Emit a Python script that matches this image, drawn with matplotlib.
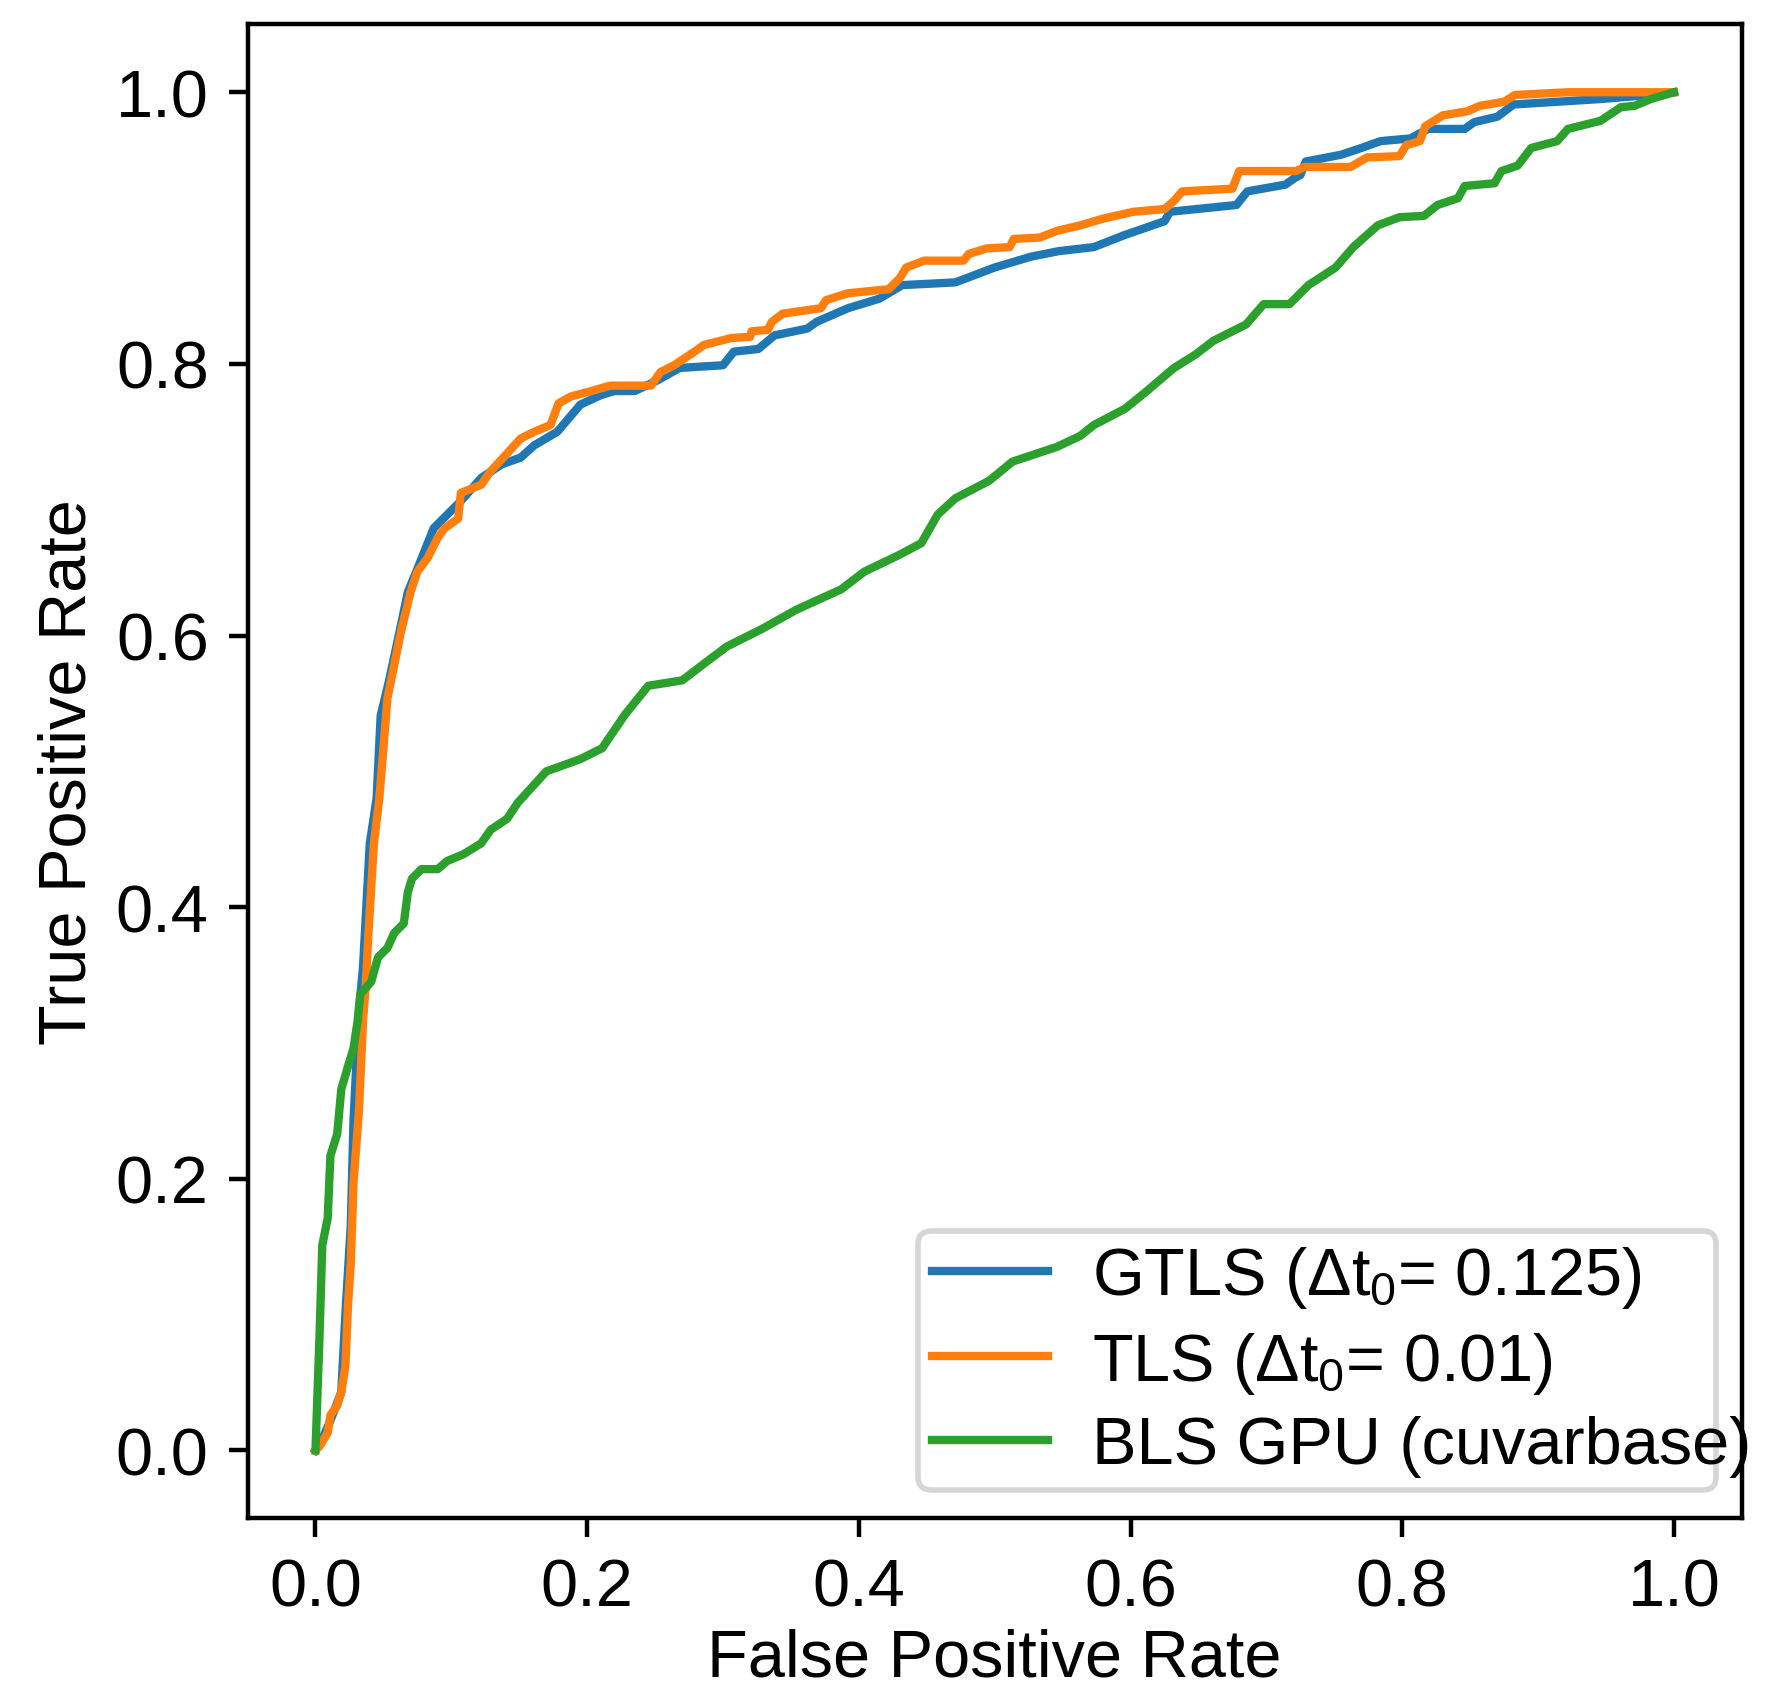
import matplotlib
matplotlib.use("Agg")
import matplotlib.pyplot as plt

plt.rcParams["font.family"] = ["Liberation Sans", "DejaVu Sans"]
plt.rcParams["mathtext.fontset"] = "custom"
plt.rcParams["mathtext.rm"] = "Liberation Sans"
plt.rcParams["mathtext.it"] = "Liberation Sans"
plt.rcParams["font.size"] = 12

# ROC curves (false positive rate, true positive rate)
gtls_fpr = [0.0, 0.004, 0.011, 0.019, 0.022, 0.026, 0.028, 0.032, 0.035, 0.040,
            0.045, 0.048, 0.054, 0.063, 0.068, 0.075, 0.087, 0.097, 0.107, 0.122,
            0.137, 0.151, 0.161, 0.178, 0.195, 0.210, 0.220, 0.235, 0.252, 0.268,
            0.300, 0.308, 0.326, 0.338, 0.362, 0.369, 0.392, 0.415, 0.432, 0.471,
            0.500, 0.527, 0.547, 0.573, 0.596, 0.625, 0.629, 0.678, 0.686, 0.714,
            0.721, 0.725, 0.729, 0.755, 0.770, 0.784, 0.806, 0.819, 0.846, 0.853,
            0.870, 0.882, 0.946, 0.970, 1.0]
gtls_tpr = [0.0, 0.006, 0.022, 0.043, 0.100, 0.166, 0.243, 0.323, 0.356, 0.447,
            0.480, 0.541, 0.566, 0.608, 0.632, 0.649, 0.679, 0.689, 0.699, 0.716,
            0.726, 0.731, 0.740, 0.750, 0.770, 0.777, 0.780, 0.780, 0.788, 0.797,
            0.799, 0.809, 0.811, 0.821, 0.826, 0.831, 0.841, 0.848, 0.858, 0.860,
            0.871, 0.879, 0.883, 0.886, 0.895, 0.905, 0.912, 0.917, 0.927, 0.932,
            0.937, 0.939, 0.949, 0.954, 0.959, 0.964, 0.966, 0.973, 0.973, 0.978,
            0.982, 0.991, 0.995, 0.997, 1.0]

tls_fpr = [0.0, 0.003, 0.009, 0.011, 0.016, 0.019, 0.022, 0.024, 0.026, 0.028,
           0.032, 0.035, 0.037, 0.039, 0.043, 0.047, 0.053, 0.063, 0.070, 0.075,
           0.0825, 0.090, 0.095, 0.105, 0.107, 0.122, 0.129, 0.141, 0.151, 0.161,
           0.173, 0.179, 0.188, 0.203, 0.217, 0.247, 0.254, 0.264, 0.279, 0.286,
           0.306, 0.320, 0.321, 0.333, 0.336, 0.344, 0.372, 0.376, 0.392, 0.422,
           0.430, 0.435, 0.448, 0.477, 0.481, 0.494, 0.511, 0.514, 0.533, 0.546,
           0.563, 0.580, 0.602, 0.625, 0.632, 0.638, 0.675, 0.680, 0.722, 0.728,
           0.762, 0.774, 0.798, 0.803, 0.813, 0.817, 0.830, 0.848, 0.857, 0.875,
           0.883, 0.922, 1.0]
tls_tpr = [0.0, 0.003, 0.013, 0.026, 0.033, 0.043, 0.062, 0.108, 0.138, 0.197,
           0.250, 0.316, 0.342, 0.381, 0.447, 0.480, 0.554, 0.603, 0.632, 0.647,
           0.657, 0.672, 0.679, 0.686, 0.705, 0.711, 0.721, 0.734, 0.745, 0.750,
           0.755, 0.771, 0.776, 0.780, 0.784, 0.784, 0.794, 0.799, 0.809, 0.814,
           0.819, 0.820, 0.824, 0.825, 0.831, 0.837, 0.841, 0.847, 0.852, 0.855,
           0.863, 0.871, 0.876, 0.876, 0.881, 0.885, 0.886, 0.892, 0.893, 0.898,
           0.902, 0.907, 0.912, 0.914, 0.920, 0.927, 0.929, 0.942, 0.942, 0.945,
           0.945, 0.952, 0.953, 0.961, 0.964, 0.975, 0.983, 0.986, 0.990, 0.993,
           0.998, 1.0, 1.0]

bls_fpr = [0.0, 0.003, 0.005, 0.009, 0.011, 0.016, 0.019, 0.024, 0.028, 0.031,
           0.033, 0.041, 0.046, 0.053, 0.058, 0.065, 0.068, 0.071, 0.078, 0.090,
           0.097, 0.109, 0.122, 0.129, 0.141, 0.149, 0.170, 0.195, 0.211, 0.228,
           0.245, 0.270, 0.287, 0.303, 0.329, 0.354, 0.387, 0.404, 0.429, 0.446,
           0.458, 0.471, 0.496, 0.513, 0.546, 0.563, 0.573, 0.596, 0.612, 0.632,
           0.648, 0.661, 0.685, 0.698, 0.717, 0.731, 0.751, 0.764, 0.782, 0.798,
           0.816, 0.826, 0.841, 0.846, 0.868, 0.873, 0.885, 0.895, 0.914, 0.922,
           0.946, 0.961, 0.971, 0.983, 1.0]
bls_tpr = [0.0, 0.085, 0.151, 0.171, 0.217, 0.233, 0.266, 0.283, 0.296, 0.316,
           0.336, 0.345, 0.363, 0.370, 0.381, 0.388, 0.411, 0.421, 0.428, 0.428,
           0.434, 0.439, 0.447, 0.457, 0.465, 0.477, 0.500, 0.509, 0.517, 0.542,
           0.563, 0.567, 0.580, 0.592, 0.605, 0.619, 0.634, 0.647, 0.659, 0.668,
           0.689, 0.701, 0.714, 0.728, 0.739, 0.747, 0.755, 0.767, 0.780, 0.797,
           0.807, 0.817, 0.829, 0.844, 0.844, 0.858, 0.871, 0.886, 0.902, 0.908,
           0.909, 0.917, 0.922, 0.931, 0.933, 0.942, 0.946, 0.959, 0.964, 0.973,
           0.979, 0.989, 0.990, 0.995, 1.0]

labels = [
    r"GTLS ($\Delta t_0$= 0.125)",
    r"TLS ($\Delta t_0$= 0.01)",
    "BLS GPU (cuvarbase)",
]


def main():
    fig = plt.figure(figsize=(1781 / 400, 1690 / 400), dpi=400)
    ax = fig.add_axes([0.139, 0.101, 0.839, 0.884])

    ax.plot(gtls_fpr, gtls_tpr, color="C0", label=labels[0])
    ax.plot(tls_fpr, tls_tpr, color="C1", label=labels[1])
    ax.plot(bls_fpr, bls_tpr, color="C2", label=labels[2])

    ax.set_xlabel("False Positive Rate", labelpad=1.5)
    ax.set_ylabel("True Positive Rate", labelpad=3)
    # box kept narrower than its text, as in the original
    ax.legend(
        loc="lower left",
        bbox_to_anchor=(0.449, 0.0187, 0.534, 0.177),
        mode="expand",
        borderaxespad=0,
        borderpad=0.2,
        labelspacing=0.29,
        handlelength=1.75,
        handletextpad=0.65,
    )

    fig.savefig("out.png", dpi=400)


if __name__ == "__main__":
    main()
